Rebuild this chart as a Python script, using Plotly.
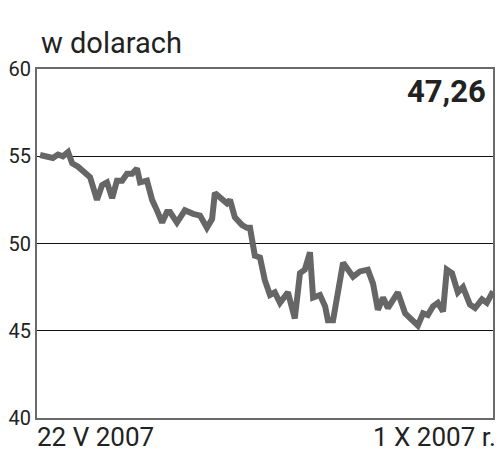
import plotly.graph_objects as go

# Day offsets from 22 V 2007 and USD prices
days = [0.9, 3.8, 4.6, 6.1, 7.5, 9.0, 10.2, 11.9, 13.9, 15.4, 17.4, 18.9, 20.3, 21.8,
        23.2, 24.7, 26.1, 27.6, 29.0, 29.9, 31.9, 33.4, 34.8, 36.3, 37.7, 38.6, 40.6,
        42.9, 45.3, 47.3, 49.3, 50.8, 51.6, 53.7, 55.1, 56.0, 57.4, 59.5, 60.9, 61.8,
        63.2, 64.7, 66.1, 67.6, 69.0, 70.5, 72.8, 74.8, 76.3, 77.7, 79.2, 80.1, 82.1,
        83.6, 84.4, 85.9, 88.8, 91.7, 93.7, 96.0, 97.5, 98.9, 100.4, 101.8, 104.7,
        106.8, 108.8, 110.5, 112.0, 113.4, 114.9, 116.3, 117.8, 118.9, 120.4, 122.1,
        123.6, 125.6, 127.1, 129.1, 130.5, 132.3]
prices = [55.07, 54.96, 54.9, 55.1, 55.0, 55.24, 54.6, 54.4, 54.1, 53.8, 52.5, 53.35,
          53.5, 52.6, 53.6, 53.6, 54.0, 54.0, 54.3, 53.5, 53.6, 52.5, 51.9, 51.2, 51.8,
          51.8, 51.2, 51.9, 51.7, 51.6, 50.9, 51.4, 52.9, 52.5, 52.3, 52.5, 51.5, 51.06,
          50.9, 50.9, 49.3, 49.2, 47.9, 47.05, 47.2, 46.6, 47.2, 45.7, 48.3, 48.5, 49.5,
          46.9, 47.05, 46.4, 45.6, 45.6, 48.9, 48.1, 48.4, 48.5, 47.7, 46.2, 46.9, 46.3,
          47.2, 46.0, 45.6, 45.3, 46.0, 45.9, 46.4, 46.6, 46.1, 48.5, 48.3, 47.2, 47.5,
          46.5, 46.3, 46.8, 46.6, 47.26]
y_ticks = [40, 45, 50, 55, 60]
start_label = "22 V 2007"
end_label = "1 X 2007 r."
title_text = "w dolarach"
last_value_text = "47,26"

FONT = "Roboto"
fig = go.Figure()
fig.add_trace(go.Scatter(x=days, y=prices, mode="lines",
                         line=dict(color="#666666", width=6, shape="linear"),
                         hoverinfo="skip", showlegend=False))

fig.update_layout(
    width=500, height=468,
    margin=dict(l=37, r=7, t=69, b=50),
    paper_bgcolor="white", plot_bgcolor="white",
    showlegend=False,
    xaxis=dict(range=[0, 132.3], showgrid=False, zeroline=False, showticklabels=False,
               automargin=False,
               showline=True, mirror=True, linecolor="#6a6a6a", linewidth=2, ticks=""),
    yaxis=dict(range=[40, 60], tickvals=y_ticks, ticktext=[str(v) for v in y_ticks],
               automargin=False,
               showgrid=True, gridcolor="#111111", gridwidth=1.2, zeroline=False,
               showline=True, mirror=True, linecolor="#6a6a6a", linewidth=2, ticks="",
               tickfont=dict(family=FONT, size=20, color="#222222")),
    annotations=[
        dict(text=title_text, xref="paper", yref="paper", x=0.005, y=1.02,
             xanchor="left", yanchor="bottom", showarrow=False,
             font=dict(family=FONT, size=29, color="#222222")),
        dict(text="<b>" + last_value_text + "</b>", xref="paper", yref="paper", x=0.99, y=0.995,
             xanchor="right", yanchor="top", showarrow=False,
             font=dict(family=FONT, size=31, color="#222222")),
        dict(text=start_label, xref="paper", yref="paper", x=-0.005, y=-0.005,
             xanchor="left", yanchor="top", showarrow=False,
             font=dict(family=FONT, size=26, color="#222222")),
        dict(text=end_label, xref="paper", yref="paper", x=1.012, y=-0.005,
             xanchor="right", yanchor="top", showarrow=False,
             font=dict(family=FONT, size=26, color="#222222")),
    ],
)

fig.write_html("out.html", config={"displayModeBar": False},
               post_script="document.body.style.margin='0px';")
